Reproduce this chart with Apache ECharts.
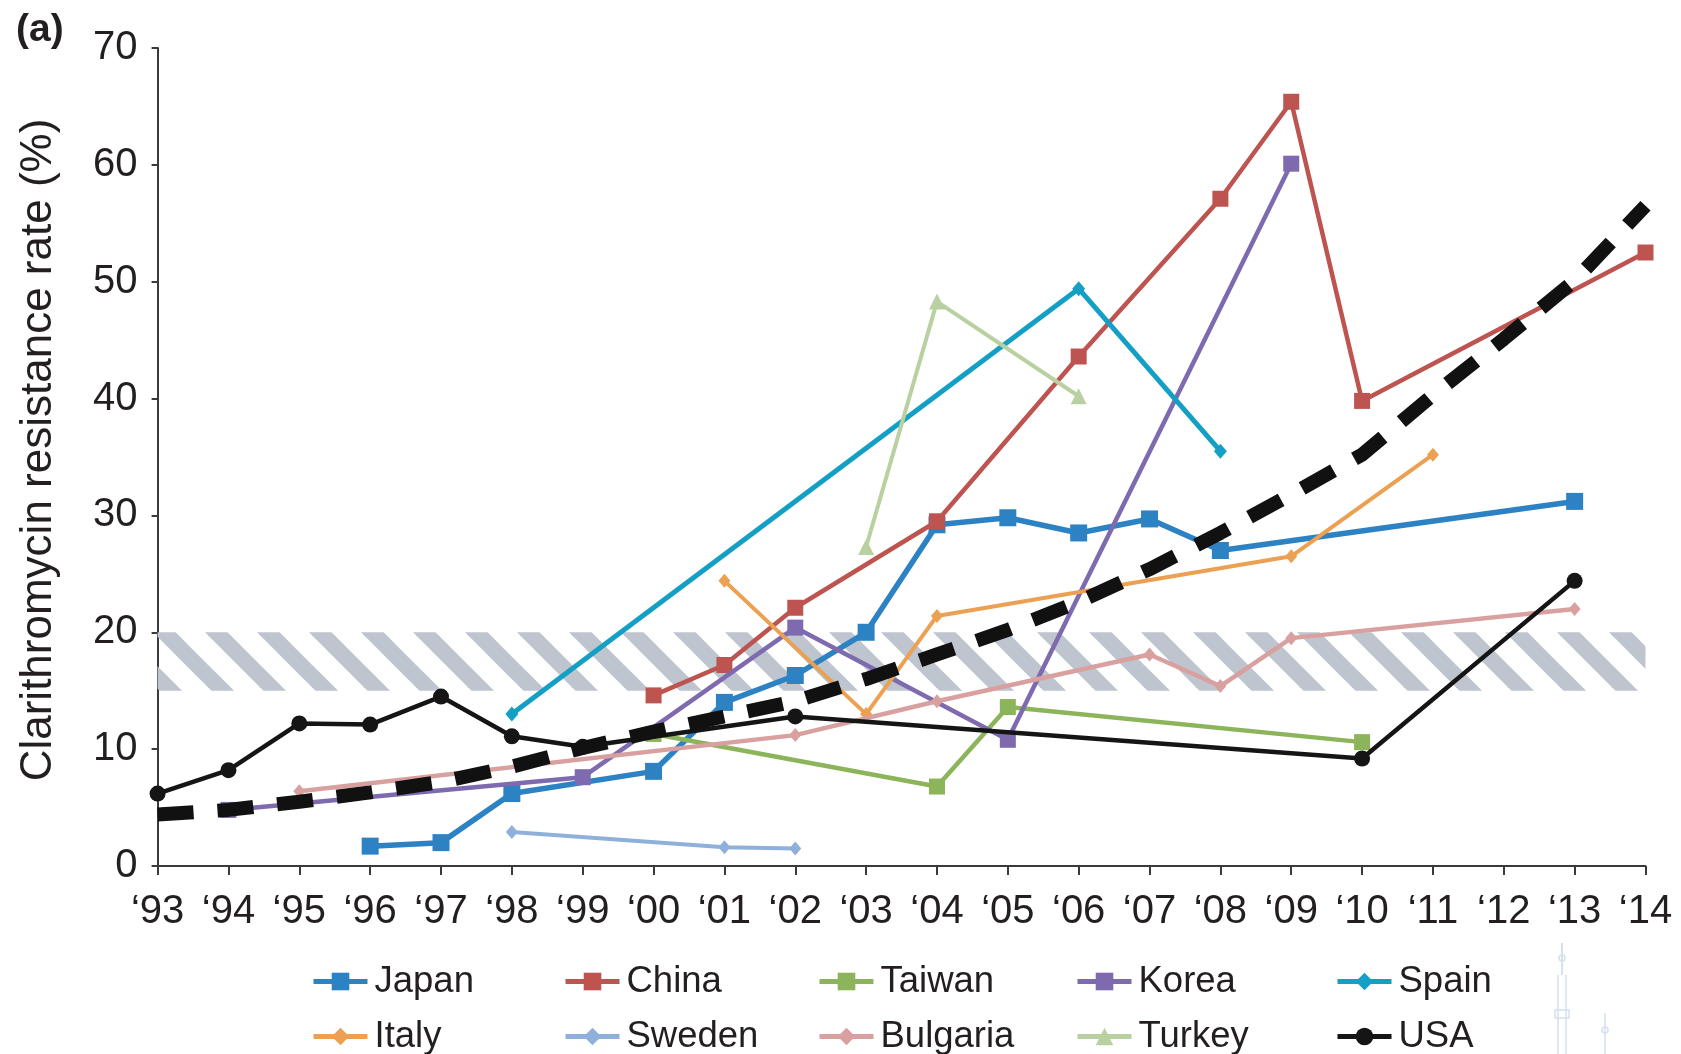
<!DOCTYPE html>
<html>
<head>
<meta charset="utf-8">
<script src="https://cdn.jsdelivr.net/npm/echarts@6/dist/echarts.min.js"></script>
<style>
  html, body { margin: 0; padding: 0; background: #fff; }
  #chart { width: 1681px; height: 1054px; }
</style>
</head>
<body>
<div id="chart"></div>
<script>
// Survey years, 1993 … 2014 (null = no survey that year)
const years = [1993, 1994, 1995, 1996, 1997, 1998, 1999, 2000, 2001, 2002, 2003,
               2004, 2005, 2006, 2007, 2008, 2009, 2010, 2011, 2012, 2013, 2014];

const japan    = [null, null, null, 1.7, 2.0, 6.2, null, 8.1, 14.0, 16.3, 20.0, 29.2, 29.8, 28.5, 29.7, 27.0, null, null, null, null, 31.2, null];
const china    = [null, null, null, null, null, null, null, 14.6, 17.2, 22.1, null, 29.5, null, 43.6, null, 57.1, 65.4, 39.8, null, null, null, 52.5];
const taiwan   = [null, null, null, null, null, null, null, 11.3, null, null, null, 6.8, 13.6, null, null, null, null, 10.6, null, null, null, null];
const korea    = [null, 4.8, null, null, null, null, 7.6, null, null, 20.4, null, null, 10.8, null, null, null, 60.1, null, null, null, null, null];
const spain    = [null, null, null, null, null, 13.0, null, null, null, null, null, null, null, 49.4, null, 35.5, null, null, null, null, null, null];
const italy    = [null, null, null, null, null, null, null, null, 24.4, null, 13.0, 21.4, null, null, null, null, 26.5, null, 35.2, null, null, null];
const sweden   = [null, null, null, null, null, 2.9, null, null, 1.6, 1.5, null, null, null, null, null, null, null, null, null, null, null, null];
const bulgaria = [null, null, 6.4, null, null, null, null, null, null, 11.2, null, 14.1, null, null, 18.1, 15.4, 19.5, null, null, null, 22.0, null];
const turkey   = [null, null, null, null, null, null, null, null, null, null, 27.3, 48.3, null, 40.2, null, null, null, null, null, null, null, null];
const usa      = [6.2, 8.2, 12.2, 12.1, 14.5, 11.1, 10.2, null, null, 12.8, null, null, null, null, null, null, null, 9.2, null, null, 24.4, null];
// Overall trend
const trend    = [4.4, 4.8, 5.5, 6.3, 7.2, 8.5, 10.1, 11.5, 12.8, 14.1, 16.0, 18.1, 20.2, 22.6, 25.4, 28.5, 31.8, 35.2, 40.3, 45.1, 50.1, 56.5];

// Band of the 15–20 % threshold
const bandLow = 15, bandHigh = 20;

const yTicks = { min: 0, max: 70, step: 10 };
const FONT = '"Liberation Sans", Arial, Helvetica, sans-serif';
const TEXT = '#231F20';

function pairs(vals) {
  return years.map((y, i) => vals[i] == null ? null : [y, vals[i]]).filter(Boolean);
}

// Diagonal hatch tile for the threshold band
function hatchTile() {
  const s = 52;
  const c = document.createElement('canvas');
  c.width = s; c.height = s;
  const g = c.getContext('2d');
  g.strokeStyle = '#BEC5CE';
  g.lineWidth = 16;
  for (const k of [-1, 0, 1]) {
    g.beginPath();
    g.moveTo(k * s - 10, -10);
    g.lineTo(k * s + s + 10, s + 10);
    g.stroke();
  }
  return c;
}

const countries = [
  { name: 'Japan',    vals: japan,    color: '#2D82C3', symbol: 'rect',     size: 17, width: 5.5 },
  { name: 'China',    vals: china,    color: '#BE5450', symbol: 'rect',     size: 16, width: 4.5 },
  { name: 'Taiwan',   vals: taiwan,   color: '#8CB45A', symbol: 'rect',     size: 16, width: 4.5 },
  { name: 'Korea',    vals: korea,    color: '#7E6AAE', symbol: 'rect',     size: 16, width: 4.5 },
  { name: 'Spain',    vals: spain,    color: '#14A0C4', symbol: 'diamond',  size: [13, 15], width: 5 },
  { name: 'Italy',    vals: italy,    color: '#EBA052', symbol: 'diamond',  size: [12, 14], width: 4 },
  { name: 'Sweden',   vals: sweden,   color: '#8EB0DA', symbol: 'diamond',  size: [12, 14], width: 4 },
  { name: 'Bulgaria', vals: bulgaria, color: '#D9A0A0', symbol: 'diamond',  size: [12, 14], width: 4.5 },
  { name: 'Turkey',   vals: turkey,   color: '#B9D0A0', symbol: 'triangle', size: 16, width: 4 },
  { name: 'USA',      vals: usa,      color: '#151515', symbol: 'circle',   size: 16, width: 4.5 }
];

const series = [{
  name: 'band',
  type: 'line',
  data: [],
  z: 1,
  silent: true,
  markArea: {
    silent: true,
    itemStyle: { color: { image: hatchTile(), repeat: 'repeat' } },
    data: [[{ coord: [years[0], bandLow] }, { coord: [years[years.length - 1], bandHigh] }]]
  }
}];

countries.forEach((c, i) => {
  series.push({
    name: c.name,
    type: 'line',
    data: pairs(c.vals),
    symbol: c.symbol,
    symbolSize: c.size,
    showSymbol: true,
    clip: false,
    z: 2 + i * 0.01,
    itemStyle: { color: c.color },
    lineStyle: { color: c.color, width: c.width },
    emphasis: { disabled: true }
  });
});

series.push({
  name: 'trend',
  type: 'line',
  data: pairs(trend),
  symbol: 'none',
  z: 3,
  clip: false,
  lineStyle: { color: '#111111', width: 14, type: [36, 24], cap: 'butt' },
  emphasis: { disabled: true }
});

// Legend grid: 5 columns, 2 rows
const legendCols = [311, 563, 817, 1075, 1335];
const legendRows = [963, 1018];
const legends = countries.map((c, i) => ({
  data: [c.name],
  left: legendCols[i % 5],
  top: legendRows[Math.floor(i / 5)],
  orient: 'horizontal',
  padding: 0,
  itemWidth: 54,
  itemHeight: 22,
  itemGap: 0,
  selectedMode: false,
  lineStyle: { width: 5 },
  textStyle: { fontFamily: FONT, fontSize: 36.5, color: TEXT, padding: [0, 0, 0, 2] }
}));

const chart = echarts.init(document.getElementById('chart'), null, { renderer: 'canvas' });
chart.setOption({
  animation: false,
  backgroundColor: '#ffffff',
  grid: { left: 157.6, right: 35.5, top: 48, bottom: 188, containLabel: false, outerBoundsMode: 'none' },
  xAxis: {
    type: 'value',
    min: years[0],
    max: years[years.length - 1],
    interval: 1,
    axisLine: { lineStyle: { color: '#3A3A3A', width: 2 } },
    axisTick: { length: 9, lineStyle: { color: '#3A3A3A', width: 2 } },
    splitLine: { show: false },
    axisLabel: {
      margin: 26,
      fontFamily: FONT, fontSize: 40, color: TEXT,
      formatter: v => '\u2018' + String(v).slice(2)
    }
  },
  yAxis: {
    type: 'value',
    min: yTicks.min,
    max: yTicks.max,
    interval: yTicks.step,
    axisLine: { show: true, lineStyle: { color: '#3A3A3A', width: 2 } },
    axisTick: { show: true, length: 6, lineStyle: { color: '#3A3A3A', width: 2 } },
    splitLine: { show: false },
    axisLabel: { margin: 20, fontFamily: FONT, fontSize: 40, color: TEXT }
  },
  legend: legends,
  series: series,
  graphic: [
    {
      type: 'text', left: 16, top: 11, z: 10,
      style: { text: '(a)', font: 'bold 39px ' + FONT, fill: TEXT }
    },
    {
      type: 'text', x: 39, y: 450, rotation: Math.PI / 2, z: 10,
      style: {
        text: 'Clarithromycin resistance rate (%)',
        font: '44px ' + FONT, fill: TEXT,
        align: 'center', verticalAlign: 'middle'
      }
    },
    // faint tower sketch in the lower right corner
    {
      type: 'group', silent: true, z: 0,
      children: [
        { type: 'polyline', shape: { points: [[1562, 943], [1562, 975]] }, style: { stroke: '#D3E0EF', lineWidth: 2, fill: null } },
        { type: 'circle', shape: { cx: 1562, cy: 958, r: 3 }, style: { stroke: '#D3E0EF', lineWidth: 1.5, fill: null } },
        { type: 'polyline', shape: { points: [[1558, 975], [1558, 1054]] }, style: { stroke: '#D3E0EF', lineWidth: 1.5, fill: null } },
        { type: 'polyline', shape: { points: [[1566, 975], [1566, 1054]] }, style: { stroke: '#D3E0EF', lineWidth: 1.5, fill: null } },
        { type: 'rect', shape: { x: 1555, y: 1010, width: 14, height: 8 }, style: { stroke: '#D3E0EF', lineWidth: 1.5, fill: null } },
        { type: 'polyline', shape: { points: [[1605, 1013], [1605, 1054]] }, style: { stroke: '#D3E0EF', lineWidth: 1.5, fill: null } },
        { type: 'circle', shape: { cx: 1605, cy: 1030, r: 3 }, style: { stroke: '#D3E0EF', lineWidth: 1.5, fill: null } }
      ]
    }
  ]
});
</script>
</body>
</html>
